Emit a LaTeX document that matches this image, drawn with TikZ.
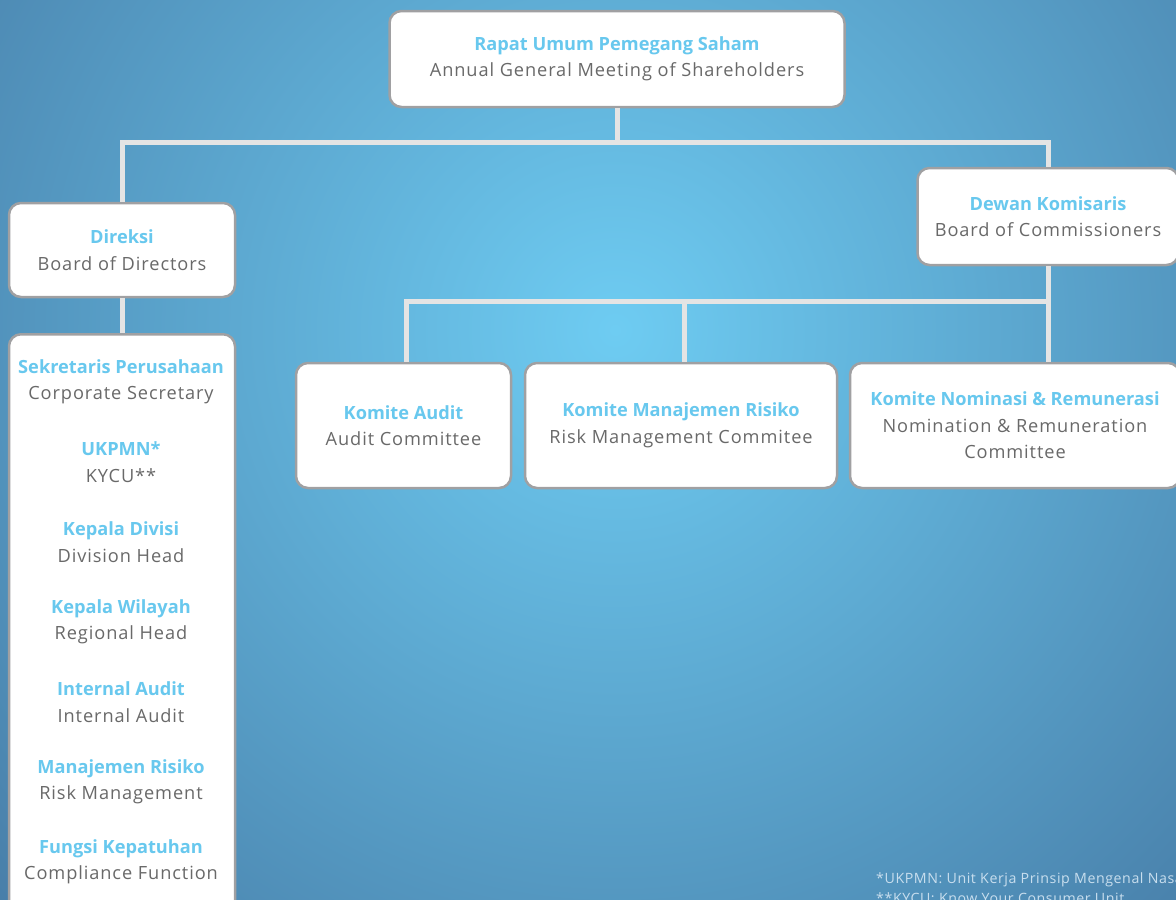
\documentclass[tikz,border=0pt]{standalone}
\usepackage{fontspec}
\setmainfont{Open Sans}
\usepackage{xcolor}
\usepackage{tikz}
\definecolor{bginner}{RGB}{110, 204, 242}
\definecolor{bgouter}{RGB}{58, 98, 142}
\definecolor{titleblue}{RGB}{104, 200, 238}
\definecolor{subgray}{RGB}{105, 105, 105}
\definecolor{boxborder}{RGB}{160, 160, 162}
\definecolor{linkgray}{RGB}{228, 228, 228}
\definecolor{notecolor}{RGB}{200, 222, 238}
\newcommand{\boxtitle}[1]{{\color{titleblue}\bfseries\addfontfeature{LetterSpace=0}#1}}

\tikzset{
  orgbox/.style={draw=boxborder, fill=white, line width=2.5pt, rounded corners=12pt,
    align=center, text=subgray, font=\fontsize{18.2}{26.5}\selectfont\addfontfeature{LetterSpace=5}, inner sep=0pt},
  orglink/.style={draw=linkgray, line width=5pt},
  coltext/.style={align=center, text=subgray, font=\fontsize{18.2}{26.5}\selectfont\addfontfeature{LetterSpace=5}, inner sep=0pt}
}

\begin{document}
\begin{tikzpicture}[x=1pt, y=-1pt]
\useasboundingbox (0,0) rectangle (1176,900);
\clip (0,0) rectangle (1176,900);
\shade[inner color=bginner, outer color=bgouter] (615,330) circle (1150);

% top level
\node[orgbox, minimum width=455pt, minimum height=96pt] (rups) at (617,59) {\boxtitle{Rapat Umum Pemegang Saham}\\Annual General Meeting of Shareholders};
\node[orgbox, minimum width=226pt, minimum height=94pt] (direksi) at (122,250) {\boxtitle{Direksi}\\Board of Directors};
\node[orgbox, minimum width=261pt, minimum height=97pt] (dewan) at (1048,216.5) {\boxtitle{Dewan Komisaris}\\Board of Commissioners};

% committees
\node[orgbox, minimum width=215pt, minimum height=125pt] (audit) at (403.5,425.5) {\boxtitle{Komite Audit}\\Audit Committee};
\node[orgbox, minimum width=312pt, minimum height=125pt] (risiko) at (681,425.5) {\boxtitle{Komite Manajemen Risiko}\\Risk Management Commitee};
\node[orgbox, minimum width=330pt, minimum height=125pt] (nominasi) at (1015,425.5) {\boxtitle{Komite Nominasi \& Remunerasi}\\Nomination \& Remuneration\\Committee};

% units under the directors
\node[orgbox, minimum width=226pt, minimum height=580pt, anchor=north] (units) at (122,333) {};
\foreach \ttl/\txt [count=\i] in {Sekretaris Perusahaan/Corporate Secretary, UKPMN*/KYCU**,
  Kepala Divisi/Division Head, Kepala Wilayah/Regional Head, Internal Audit/Internal Audit,
  Manajemen Risiko/Risk Management, Fungsi Kepatuhan/Compliance Function}
  \node[coltext] (unit\i) at (121,{302+80*\i}) {\boxtitle{\ttl}\\\txt};

% connectors
\draw[orglink] (rups.south) -- ++(0,34) -| (direksi.north);
\draw[orglink] (rups.south) -- ++(0,34) -| (dewan.north);
\draw[orglink] (direksi.south) -- (units.north);
\draw[orglink] (dewan.south) -- (dewan.south |- nominasi.north);
\draw[orglink] (dewan.south) -- ++(0,35) -| ([xshift=2.5pt]audit.north);
\draw[orglink] (dewan.south) -- ++(0,35) -| ([xshift=3pt]risiko.north);

% notes
\node[anchor=north west, align=left, text=notecolor, inner sep=0pt,
  font=\fontsize{14.2}{20}\selectfont\addfontfeature{LetterSpace=4}] (note) at (876,873) {*UKPMN: Unit Kerja Prinsip Mengenal Nasabah\\**KYCU: Know Your Consumer Unit};
\end{tikzpicture}
\end{document}
